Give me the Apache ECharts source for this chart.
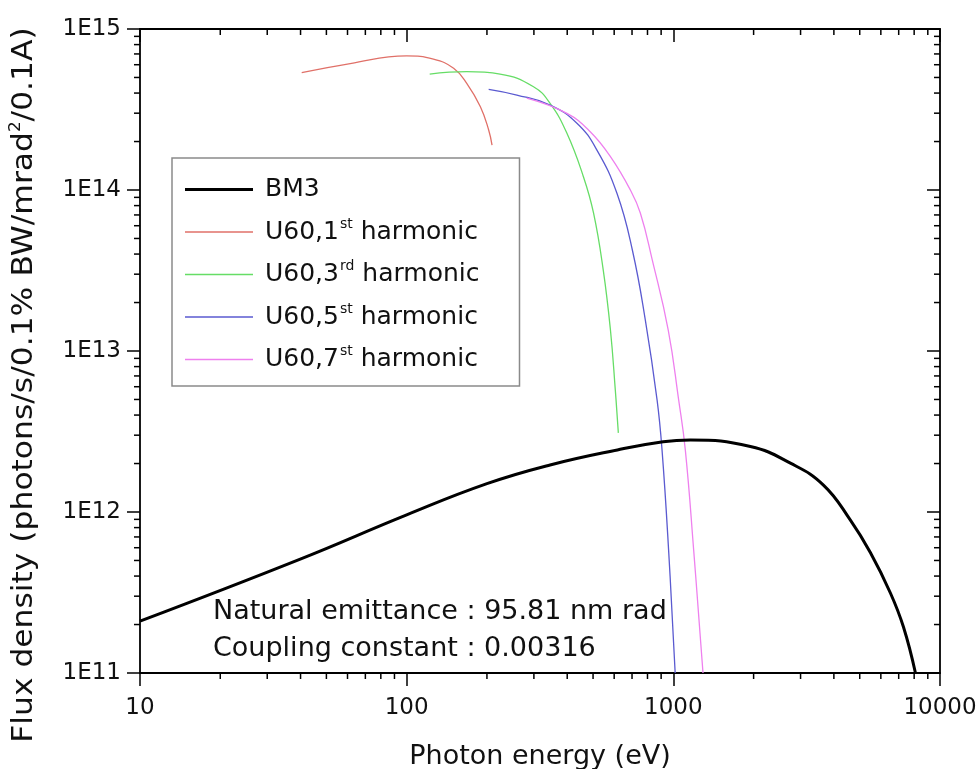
<!DOCTYPE html>
<html><head><meta charset="utf-8">
<script src="https://cdn.jsdelivr.net/npm/echarts@6/dist/echarts.min.js"></script>
<style>html,body{margin:0;padding:0;background:#fff}#c{width:977px;height:769px}</style>
</head><body><div id="c"></div>
<script>
const xTickLabels = ['10', '100', '1000', '10000'];
const yTickLabels = ['1E11', '1E12', '1E13', '1E14', '1E15'];
const xMinorTicks = [20,30,40,50,60,70,80,90,200,300,400,500,600,700,800,900,2000,3000,4000,5000,6000,7000,8000,9000];
const yMinorTicks = [2e11,3e11,4e11,5e11,6e11,7e11,8e11,9e11,2e12,3e12,4e12,5e12,6e12,7e12,8e12,9e12,2e13,3e13,4e13,5e13,6e13,7e13,8e13,9e13,2e14,3e14,4e14,5e14,6e14,7e14,8e14,9e14];

const seriesNames = ['BM3', 'U60,1st harmonic', 'U60,3rd harmonic', 'U60,5st harmonic', 'U60,7st harmonic'];

const bm3Energy = [10, 39.9, 100, 200, 345, 617, 916, 1159, 1945, 2748, 3655, 4613, 5480, 6516, 7295, 8090];
const bm3Flux = [2.1e11, 5.1e11, 9.6e11, 1.5e12, 1.96e12, 2.43e12, 2.73e12, 2.8e12, 2.55e12, 2.01e12, 1.47e12, 8.9e11, 5.6e11, 3.14e11, 1.93e11, 1e11];

const h1Energy = [40.4, 61.4, 100, 126, 150, 168, 189, 203, 209];
const h1Flux = [5.35e14, 6.1e14, 6.8e14, 6.5e14, 5.7e14, 4.6e14, 3.29e14, 2.36e14, 1.9e14];

const h3Energy = [122, 168, 224, 299, 345, 399, 460, 502, 546, 581, 606, 622];
const h3Flux = [5.25e14, 5.43e14, 5.25e14, 4.38e14, 3.45e14, 2.25e14, 1.21e14, 7.2e13, 3.18e13, 1.35e13, 5.7e12, 3.1e12];

const h5Energy = [203, 259, 345, 435, 517, 615, 702, 785, 869, 907, 960, 1016];
const h5Flux = [4.22e14, 3.89e14, 3.37e14, 2.6e14, 1.77e14, 9.5e13, 4.24e13, 1.56e13, 4.97e12, 2.43e12, 5.8e11, 1e11];

const h7Energy = [282, 399, 488, 581, 690, 752, 834, 957, 1047, 1109, 1192, 1292];
const h7Flux = [3.72e14, 2.99e14, 2.3e14, 1.61e14, 1e14, 7.2e13, 3.67e13, 1.35e13, 4.97e12, 2.43e12, 5.8e11, 1e11];

const seriesColors = ['#000000', '#e07068', '#66dd66', '#5a5ad0', '#ee80ee'];
const seriesWidths = [3, 1.3, 1.3, 1.3, 1.3];
const allEnergy = [bm3Energy, h1Energy, h3Energy, h5Energy, h7Energy];
const allFlux = [bm3Flux, h1Flux, h3Flux, h5Flux, h7Flux];

const X_MIN = 10, X_MAX = 10000, Y_MIN = 1e11, Y_MAX = 1e15;
const FONT = 'DejaVu Sans';
const chart = echarts.init(document.getElementById('c'), null, {renderer: 'canvas'});

function zip(a, b) { return a.map((v, i) => [v, b[i]]); }
const lg = v => Math.log10(v);

function xMajor(pos, inside, labels) {
  return {
    type: 'log', logBase: 10, min: X_MIN, max: X_MAX, position: pos,
    axisLine: {show: true, onZero: false, lineStyle: {color: '#000', width: 1.8}},
    axisTick: {show: true, inside: inside, length: 13, lineStyle: {color: '#000', width: 1.5}},
    axisLabel: labels ? {show: true, margin: 24, color: '#111', fontFamily: FONT, fontSize: 23,
      formatter: v => xTickLabels[Math.round(lg(v)) - 1]} : {show: false},
    splitLine: {show: false}
  };
}
function yMajor(pos, inside, labels) {
  return {
    type: 'log', logBase: 10, min: Y_MIN, max: Y_MAX, position: pos,
    axisLine: {show: true, onZero: false, lineStyle: {color: '#000', width: 1.8}},
    axisTick: {show: true, inside: inside, length: 13, lineStyle: {color: '#000', width: 1.5}},
    axisLabel: labels ? {show: true, margin: 19, color: '#111', fontFamily: FONT, fontSize: 23,
      formatter: v => yTickLabels[Math.round(lg(v)) - 11]} : {show: false},
    splitLine: {show: false}
  };
}

const xAxes = [xMajor('bottom', false, true), xMajor('top', true, false)];
xAxes[0].name = 'Photon energy (eV)';
xAxes[0].nameLocation = 'middle';
xAxes[0].nameGap = 70;
xAxes[0].nameTextStyle = {fontFamily: FONT, fontSize: 27, color: '#111'};
const yAxes = [yMajor('left', false, true), yMajor('right', true, false)];

const series = seriesNames.map((n, i) => ({
  name: n, type: 'line', xAxisIndex: 0, yAxisIndex: 0,
  data: zip(allEnergy[i], allFlux[i]),
  symbol: 'none', showSymbol: false, smooth: 0.45,
  lineStyle: {color: seriesColors[i], width: seriesWidths[i]},
  itemStyle: {color: seriesColors[i]},
  z: i === 0 ? 3 : 2
}));

const MINOR = 6;
const tickStyle = {stroke: '#000', lineWidth: 1.5};
// minor ticks: bottom (outward) and top (inward), placed through the axis scale
series.push({
  type: 'custom', name: 'xminor', coordinateSystem: 'cartesian2d', xAxisIndex: 0, yAxisIndex: 0, clip: false, silent: true, z: 5,
  data: xMinorTicks.map(v => [v, Y_MIN]),
  renderItem: function (params, api) {
    const v = api.value(0);
    const b = api.coord([v, Y_MIN]), t = api.coord([v, Y_MAX]);
    return {type: 'group', children: [
      {type: 'line', shape: {x1: b[0], y1: b[1], x2: b[0], y2: b[1] + MINOR}, style: tickStyle},
      {type: 'line', shape: {x1: t[0], y1: t[1], x2: t[0], y2: t[1] + MINOR}, style: tickStyle}
    ]};
  }
});
// minor ticks: left (outward) and right (inward)
series.push({
  type: 'custom', name: 'yminor', coordinateSystem: 'cartesian2d', xAxisIndex: 0, yAxisIndex: 0, clip: false, silent: true, z: 5,
  data: yMinorTicks.map(v => [X_MIN, v]),
  renderItem: function (params, api) {
    const v = api.value(1);
    const l = api.coord([X_MIN, v]), r = api.coord([X_MAX, v]);
    return {type: 'group', children: [
      {type: 'line', shape: {x1: l[0], y1: l[1], x2: l[0] - MINOR, y2: l[1]}, style: tickStyle},
      {type: 'line', shape: {x1: r[0], y1: r[1], x2: r[0] - MINOR, y2: r[1]}, style: tickStyle}
    ]};
  }
});

const legendIcons = seriesWidths.map(w => 'path://M0,0L68,0L68,' + w + 'L0,' + w + 'Z');

chart.setOption({
  animation: false,
  backgroundColor: '#fff',
  grid: {left: 140, right: 37, top: 29, bottom: 96, containLabel: false, outerBoundsMode: 'none'},
  xAxis: xAxes,
  yAxis: yAxes,
  legend: {
    orient: 'vertical', left: 172, top: 158,
    padding: [19, 40, 14, 13],
    itemWidth: 68, itemHeight: 14, itemGap: 15,
    borderColor: '#8a8a8a', borderWidth: 1.5, backgroundColor: '#fff',
    data: seriesNames.map((n, i) => ({name: n, icon: legendIcons[i]})),
    formatter: name => {
      const m = name.match(/^(U60,\d)(st|rd)( harmonic)$/);
      return m ? '{b|' + m[1] + '}{s|' + m[2] + '}{b|' + m[3] + '}' : '{b|' + name + '}';
    },
    textStyle: {
      color: '#111', fontFamily: FONT, fontSize: 25, padding: [0, 0, 0, 7],
      rich: {
        b: {fontFamily: FONT, fontSize: 25, lineHeight: 30, color: '#111'},
        s: {fontFamily: FONT, fontSize: 14, lineHeight: 14, verticalAlign: 'top', color: '#111', padding: [0, 0, 0, 1]}
      }
    }
  },
  graphic: [
    {type: 'text', left: 213, top: 598, style: {text: 'Natural emittance : 95.81 nm rad', font: '27px "DejaVu Sans"', fill: '#111'}},
    {type: 'text', left: 213, top: 635, style: {text: 'Coupling constant : 0.00316', font: '27px "DejaVu Sans"', fill: '#111'}},
    {type: 'text', x: 25, y: 385, rotation: Math.PI / 2, scaleX: 1.12,
      style: {text: '{b|Flux density (photons/s/0.1% BW/mrad}{s|2}{b|/0.1A)}', align: 'center', verticalAlign: 'middle',
        rich: {b: {fontFamily: FONT, fontSize: 28, lineHeight: 32, fill: '#111'},
               s: {fontFamily: FONT, fontSize: 15, lineHeight: 15, verticalAlign: 'top', fill: '#111'}}}}
  ],
  series: series
});
</script></body></html>
